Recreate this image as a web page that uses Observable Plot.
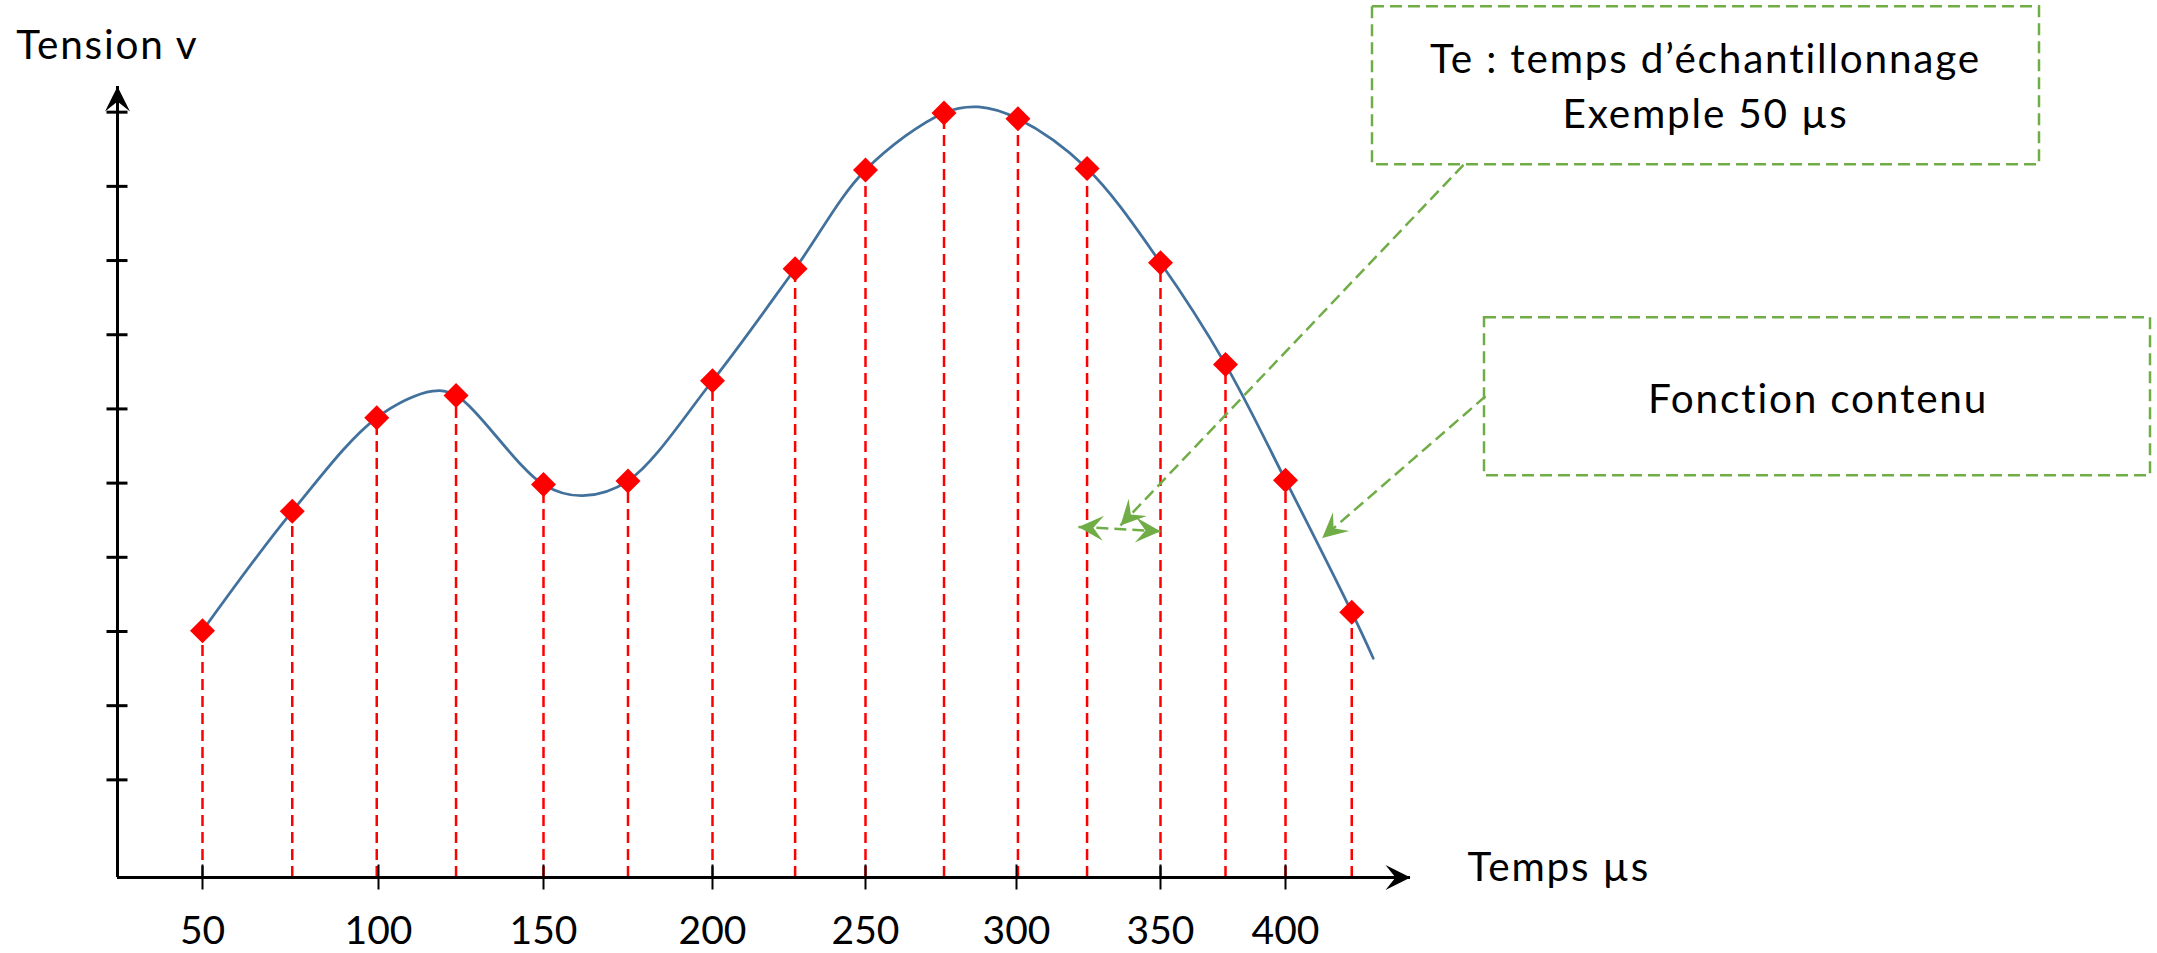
<!DOCTYPE html>
<html>
<head>
<meta charset="utf-8">
<script src="https://cdn.jsdelivr.net/npm/d3@7"></script>
<script src="https://cdn.jsdelivr.net/npm/@observablehq/plot@0.6"></script>
<style>
  html, body { margin: 0; padding: 0; background: #fff; overflow: hidden; }
  #chart svg { display: block; }
  #chart g[aria-label="text"] text { letter-spacing: 1.8px; }
</style>
</head>
<body>
<div id="chart"></div>
<script>
// ---------- data ----------
// axis tick labels (µs)
const xTickLabels = [50, 100, 150, 200, 250, 300, 350, 400];
// unlabeled tension ticks
const yTickValues = [1, 2, 3, 4, 5, 6, 7, 8, 9, 10];
// axis extents (start at the origin corner, end at the arrow tips)
const xStart = 26, xEnd = 450;
const yStart = -0.316, yEnd = 10.346;

// sampled points (Te ≈ 25 µs on the drawing)
const sampleTimes  = [50, 75.5, 99.5, 123.5, 150, 175, 200, 227, 250, 276, 300.5, 324.5, 350, 376, 400, 426.5];
const sampleValues = [3.01, 4.62, 5.88, 6.18, 4.98, 5.03, 6.38, 7.89, 9.22, 9.99, 9.91, 9.24, 7.97, 6.60, 5.04, 3.26];

// continuous signal ("fonction contenu")
const curveTimes  = [50, 75.5, 99.5, 116.4, 123.5, 150, 161.6, 175, 200, 227, 250, 276, 287.4, 300.5, 324.5, 350, 376, 400, 426.5, 435.1];
const curveValues = [3.01, 4.62, 5.88, 6.24, 6.18, 4.98, 4.83, 5.03, 6.38, 7.89, 9.22, 9.99, 10.07, 9.91, 9.24, 7.97, 6.60, 5.04, 3.26, 2.64];

// annotation boxes (chart units)
const boxX1 = [434.8, 479.6];
const boxX2 = [701.6, 746.0];
const boxY1 = [9.29, 5.10];
const boxY2 = [11.42, 7.23];

// annotation texts
const noteTexts  = ["Te : temps d’échantillonnage", "Exemple 50 µs", "Fonction contenu"];
const noteTimes  = [568, 568, 613];
const noteValues = [10.53, 9.78, 5.95];

// leader lines from the boxes
const leaderFromT = [471.2, 480.0];
const leaderFromV = [9.29, 6.17];
const leaderToT   = [336.1, 414.7];
const leaderToV   = [4.43, 4.26];

// Te double arrow between two samples
const teTimes  = [321.5, 350];
const teValues = [4.41, 4.35];

// axis titles
const axisTitles      = ["Tension v", "Temps µs"];
const axisTitleTimes  = [-2.6, 472.8];
const axisTitleValues = [10.72, -0.357];

// ---------- layout ----------
const width = 2157, height = 953;
const marginLeft = 117, marginRight = 747, marginTop = 86, marginBottom = 76;
// the hand-drawn time axis is not evenly spaced: pin each labeled tick
const xDomain = [xStart, ...xTickLabels, xEnd];
const xRange = [marginLeft, 202, 378, 543, 712, 865, 1016, 1160, 1285, width - marginRight];

const green = "#70AD47", red = "#FF0000", blue = "#41719C";
const fontSize = 40.5;
const tickFontSize = 39;

// pixel helpers (same mapping as the Plot scales) to orient arrowheads
const sx = d3.scaleLinear().domain(xDomain).range(xRange);
const sy = d3.scaleLinear().domain([yStart, yEnd]).range([height - marginBottom, marginTop]);
const angle = (t1, v1, t2, v2) => Math.atan2(sy(v2) - sy(v1), sx(t2) - sx(t1)) * 180 / Math.PI;

// filled "stealth" arrowhead, tip at the anchor, pointing along +x
const stealth = {
  draw(context, size) {
    const s = Math.sqrt(size / Math.PI);
    context.moveTo(0, 0);
    context.lineTo(-2 * s, -s);
    context.lineTo(-1.2 * s, 0);
    context.lineTo(-2 * s, s);
    context.closePath();
  }
};

const samples = sampleTimes.map((t, i) => ({t, v: sampleValues[i]}));
const curve = curveTimes.map((t, i) => ({t, v: curveValues[i]}));
const boxes = boxX1.map((x1, i) => ({x1, x2: boxX2[i], y1: boxY1[i], y2: boxY2[i]}));
const notes = noteTexts.map((text, i) => ({text, t: noteTimes[i], v: noteValues[i]}));
const leaders = leaderFromT.map((t1, i) => ({t1, v1: leaderFromV[i], t2: leaderToT[i], v2: leaderToV[i]}));
const teLink = [{t1: teTimes[0], v1: teValues[0], t2: teTimes[1], v2: teValues[1]}];
const titles = axisTitles.map((text, i) => ({text, t: axisTitleTimes[i], v: axisTitleValues[i]}));

const blackHeads = [
  {t: xEnd, v: yStart, a: angle(xStart, yStart, xEnd, yStart)},
  {t: xStart, v: yEnd, a: angle(xStart, yStart, xStart, yEnd)}
];
const greenHeads = [
  ...leaders.map(d => ({t: d.t2, v: d.v2, a: angle(d.t1, d.v1, d.t2, d.v2)})),
  {t: teTimes[1], v: teValues[1], a: angle(teTimes[0], teValues[0], teTimes[1], teValues[1])},
  {t: teTimes[0], v: teValues[0], a: angle(teTimes[1], teValues[1], teTimes[0], teValues[0])}
];

const chart = Plot.plot({
  width, height, marginLeft, marginRight, marginTop, marginBottom,
  style: {fontFamily: "Lato, 'Open Sans', sans-serif", fontSize: fontSize + "px", color: "black", background: "white"},
  x: {type: "linear", domain: xDomain, range: xRange},
  y: {type: "linear", domain: [yStart, yEnd]},
  marks: [
    // sampling rules
    Plot.ruleX(samples, {x: "t", y1: yStart, y2: "v", stroke: red, strokeWidth: 2.5, strokeDasharray: "11,6"}),
    // axes lines
    Plot.ruleY([yStart], {x1: xStart, x2: xEnd, stroke: "black", strokeWidth: 3}),
    Plot.ruleX([xStart], {y1: yStart, y2: yEnd, stroke: "black", strokeWidth: 3}),
    Plot.axisY({ticks: yTickValues, tickSize: 21, dx: 10.5, tickFormat: () => "", label: null, strokeWidth: 3}),
    Plot.axisX({ticks: xTickLabels, tickSize: 25, dy: -12.5, tickPadding: 25.8, fontSize: tickFontSize, label: null, strokeWidth: 2}),
    Plot.dot(blackHeads, {x: "t", y: "v", rotate: "a", symbol: stealth, r: 12.5, fill: "black"}),
    // continuous signal
    Plot.line(curve, {x: "t", y: "v", curve: "catmull-rom", stroke: blue, strokeWidth: 2.75}),
    // samples
    Plot.dot(samples, {x: "t", y: "v", symbol: "diamond2", r: 11.26, fill: red}),
    // annotations
    Plot.rect(boxes, {x1: "x1", x2: "x2", y1: "y1", y2: "y2", fill: "none", stroke: green, strokeWidth: 2.5, strokeDasharray: "12,6"}),
    Plot.link(leaders, {x1: "t1", y1: "v1", x2: "t2", y2: "v2", stroke: green, strokeWidth: 2.5, strokeDasharray: "12,6"}),
    Plot.link(teLink, {x1: "t1", y1: "v1", x2: "t2", y2: "v2", stroke: green, strokeWidth: 2.5, strokeDasharray: "12,6"}),
    Plot.dot(greenHeads, {x: "t", y: "v", rotate: "a", symbol: stealth, r: 12.5, fill: green}),
    Plot.text(notes, {x: "t", y: "v", text: "text", textAnchor: "middle", lineAnchor: "bottom", fontSize, fill: "black"}),
    Plot.text(titles, {x: "t", y: "v", text: "text", textAnchor: "start", lineAnchor: "bottom", fontSize, fill: "black"})
  ]
});
document.getElementById("chart").append(chart);
</script>
</body>
</html>
